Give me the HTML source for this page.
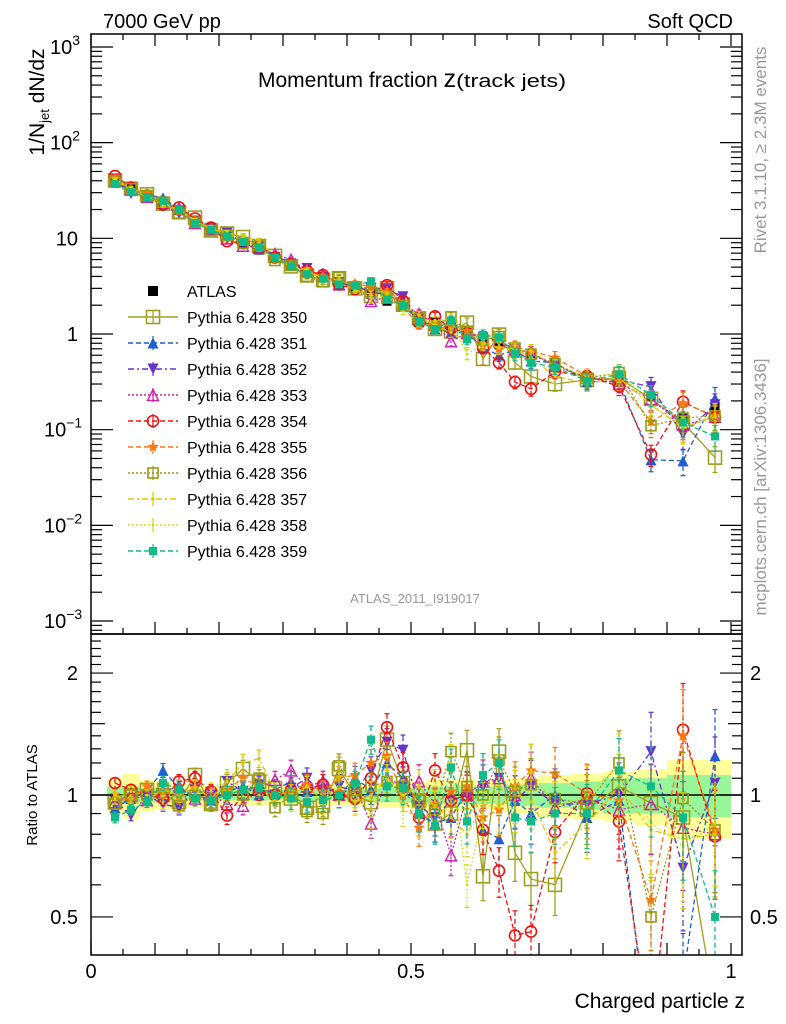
<!DOCTYPE html>
<html><head><meta charset="utf-8"><style>
html,body{margin:0;padding:0;background:#fff;width:786px;height:1024px;overflow:hidden}
svg{display:block;font-family:"Liberation Sans",sans-serif}
</style></head><body>
<svg id="c" width="786" height="1024" viewBox="0 0 786 1024">
<text x="103" y="28" font-size="20">7000 GeV pp</text>
<text x="733" y="28" font-size="20" text-anchor="end">Soft QCD</text>
<text x="258" y="87" font-size="21">Momentum fraction <tspan font-size="25">z</tspan><tspan font-size="18" textLength="110" lengthAdjust="spacingAndGlyphs">(track jets)</tspan></text>
<text x="415" y="603" font-size="13" fill="#999" text-anchor="middle">ATLAS_2011_I919017</text>
<text transform="translate(44,102) rotate(-90)" font-size="21" text-anchor="middle">1/N<tspan font-size="13" dy="5">jet</tspan><tspan dy="-5"> dN/dz</tspan></text>
<text transform="translate(37,795) rotate(-90)" font-size="15" text-anchor="middle">Ratio to ATLAS</text>
<text x="745" y="1008" font-size="21" text-anchor="end">Charged particle z</text>
<text transform="translate(766,150) rotate(-90)" font-size="17" fill="#999" text-anchor="middle">Rivet 3.1.10, ≥ 2.3M events</text>
<text transform="translate(766,487) rotate(-90)" font-size="17" fill="#999" text-anchor="middle">mcplots.cern.ch [arXiv:1306.3436]</text>
</svg>
<script>
const z=[0.0375,0.0625,0.0875,0.1125,0.1375,0.1625,0.1875,0.2125,0.2375,0.2625,0.2875,0.3125,0.3375,0.3625,0.3875,0.4125,0.4375,0.4625,0.4875,0.5125,0.5375,0.5625,0.5875,0.6125,0.6375,0.6625,0.6875,0.725,0.775,0.825,0.875,0.925,0.975];
const atlas=[42,33,28,23,19.5,14.7,12.7,10.5,8.9,7.7,6.3,5.2,4.4,3.9,3.3,3.0,2.6,2.2,1.9,1.5,1.33,1.18,1.02,0.87,0.77,0.7,0.58,0.5,0.36,0.33,0.22,0.135,0.17];
const statErr=[0.05,0.05,0.04,0.03,0.03,0.03,0.03,0.03,0.03,0.03,0.03,0.03,0.03,0.03,0.03,0.03,0.04,0.04,0.04,0.04,0.05,0.05,0.05,0.05,0.05,0.06,0.06,0.07,0.08,0.1,0.1,0.12,0.12];
const totErr=[0.1,0.13,0.09,0.08,0.07,0.07,0.06,0.06,0.06,0.06,0.06,0.05,0.05,0.06,0.06,0.06,0.06,0.07,0.07,0.08,0.09,0.09,0.09,0.08,0.09,0.1,0.1,0.12,0.13,0.14,0.16,0.22,0.22];
const mcErr=[0.03,0.03,0.03,0.04,0.04,0.04,0.04,0.05,0.05,0.05,0.05,0.06,0.06,0.06,0.07,0.07,0.08,0.08,0.09,0.1,0.1,0.11,0.12,0.13,0.14,0.15,0.16,0.16,0.18,0.2,0.25,0.3,0.3];
const r350=[0.96,1.0,1.03,1.0,0.96,1.12,0.95,1.07,1.16,1.08,1.04,0.98,0.93,0.94,1.16,1.0,0.96,1.37,1.07,0.97,0.85,0.9,1.29,0.63,1.28,0.72,0.62,0.6,0.92,1.05,0.955,0.88,0.3];
const r351=[0.93,0.98,1.02,1.15,1.04,1.0,0.97,1.02,1.05,1.0,1.03,1.08,1.02,1.06,1.0,1.1,1.03,1.2,1.1,0.9,0.85,0.88,1.02,0.82,0.78,0.97,0.9,1.0,0.88,0.97,0.22,0.35,1.25];
const r352=[0.97,0.89,1.0,0.95,0.93,1.03,1.0,1.08,1.02,1.06,1.0,1.04,1.1,1.0,1.05,1.02,1.15,1.35,1.29,0.94,0.88,0.97,1.0,1.05,1.1,0.97,1.05,0.95,0.95,1.0,1.28,0.66,1.07];
const r353=[0.96,1.0,0.97,1.02,1.05,0.98,1.0,0.95,0.94,1.04,1.09,1.15,1.05,1.08,1.0,1.05,0.85,1.1,1.05,1.08,0.95,0.71,1.0,1.08,1.1,1.0,1.1,0.93,0.98,0.92,0.95,0.83,0.8];
const r354=[1.07,1.03,1.0,0.98,1.08,1.1,1.02,0.89,1.0,1.02,1.0,1.03,1.04,1.06,1.0,0.98,1.1,1.47,1.17,0.88,1.15,0.97,1.0,0.82,0.65,0.45,0.46,0.81,1.01,0.86,0.25,1.45,0.79];
const r355=[1.0,0.97,1.05,1.02,1.0,1.04,0.98,1.03,1.1,1.05,0.99,1.03,1.06,1.02,1.1,1.12,1.2,1.25,1.0,0.83,0.95,1.02,1.05,0.88,0.92,1.05,1.15,1.13,1.01,0.97,0.55,1.4,0.82];
const r356=[0.95,1.0,1.0,1.04,0.94,1.0,0.95,1.02,1.0,1.1,0.93,1.0,0.91,0.9,1.18,1.03,1.05,1.08,1.05,0.97,0.92,1.28,1.05,1.0,1.22,1.02,1.06,0.98,0.95,1.2,0.5,0.98,0.82];
const r357=[1.0,0.95,0.97,1.03,1.0,1.05,0.98,1.08,1.2,1.23,1.02,1.0,1.05,0.97,1.04,0.96,1.0,1.1,1.0,1.05,0.93,0.88,0.8,0.95,0.93,1.0,0.98,0.72,0.85,1.05,0.82,0.78,0.8];
const r358=[0.98,1.02,1.0,0.96,1.05,1.0,1.03,1.1,1.04,1.0,1.0,0.97,1.05,0.95,1.13,1.0,0.9,1.15,0.92,0.88,1.05,1.2,0.6,0.9,1.1,0.95,1.15,0.93,1.0,1.18,0.85,0.75,0.85];
const r359=[0.88,0.92,0.96,1.07,1.03,0.98,0.97,1.0,1.03,1.04,1.0,0.98,0.96,0.97,1.0,1.07,1.37,1.05,1.04,0.9,0.84,1.17,0.86,1.12,1.2,0.88,0.86,0.9,0.9,1.15,1.05,0.88,0.5];
const names=["Pythia 6.428 350","Pythia 6.428 351","Pythia 6.428 352","Pythia 6.428 353","Pythia 6.428 354","Pythia 6.428 355","Pythia 6.428 356","Pythia 6.428 357","Pythia 6.428 358","Pythia 6.428 359"];

const NS="http://www.w3.org/2000/svg";
const svg=document.getElementById('c');
const L=91,R=742,T1=34,B1=634,T2=634,B2=955;
const X=v=>L+v*640;
const Y1=v=>334-95.67*Math.log10(v);
const Y2=v=>795-405*Math.log10(v);
function mk(tag,at,parent){const e=document.createElementNS(NS,tag);for(const k in at)e.setAttribute(k,at[k]);(parent||svg).appendChild(e);return e;}

const styles=[
 {c:"#a0a020",d:"",m:"osq",s:13},
 {c:"#1f5fcf",d:"5,3",m:"tri",s:11},
 {c:"#6633cc",d:"6,3,2,3",m:"tridn",s:11},
 {c:"#cc22aa",d:"2,2",m:"otri",s:11},
 {c:"#ee1111",d:"5,3",m:"ocirc",s:11},
 {c:"#ff7711",d:"5,3",m:"star",s:12},
 {c:"#999910",d:"2,2",m:"osq",s:10},
 {c:"#e0c800",d:"6,3,2,3",m:"dot",s:5},
 {c:"#ccdd00",d:"1.5,2.5",m:"dot",s:4},
 {c:"#11bb88",d:"5,3",m:"sq",s:8}
];
const ratios=[r350,r351,r352,r353,r354,r355,r356,r357,r358,r359];

function marker(g,m,x,y,c,s){
 const h=s/2;
 if(m==="osq")return mk('rect',{x:x-h,y:y-h,width:s,height:s,fill:"none",stroke:c,"stroke-width":1.6},g);
 if(m==="sq")return mk('rect',{x:x-h,y:y-h,width:s,height:s,fill:c},g);
 if(m==="tri")return mk('polygon',{points:`${x},${y-h} ${x-h},${y+h} ${x+h},${y+h}`,fill:c},g);
 if(m==="tridn")return mk('polygon',{points:`${x},${y+h} ${x-h},${y-h} ${x+h},${y-h}`,fill:c},g);
 if(m==="otri")return mk('polygon',{points:`${x},${y-h} ${x-h},${y+h} ${x+h},${y+h}`,fill:"none",stroke:c,"stroke-width":1.4},g);
 if(m==="ocirc")return mk('circle',{cx:x,cy:y,r:h,fill:"none",stroke:c,"stroke-width":1.6},g);
 if(m==="dot")return mk('circle',{cx:x,cy:y,r:h/1.5,fill:c},g);
 if(m==="star"){let p=[];for(let i=0;i<10;i++){const a=-Math.PI/2+i*Math.PI/5,rr=i%2?h*0.45:h;p.push((x+rr*Math.cos(a)).toFixed(1)+","+(y+rr*Math.sin(a)).toFixed(1));}return mk('polygon',{points:p.join(' '),fill:c},g);}
}

const defs=mk('defs',{});
const cp1=mk('clipPath',{id:'cp1'},defs);mk('rect',{x:L,y:T1,width:R-L,height:B1-T1},cp1);
const cp2=mk('clipPath',{id:'cp2'},defs);mk('rect',{x:L,y:T2,width:R-L,height:B2-T2},cp2);

const bands=mk('g',{"clip-path":"url(#cp2)"});


const edges=z.map((v,i)=>[i<27?v-0.0125:v-0.025,i<27?v+0.0125:v+0.025]);
z.forEach((v,i)=>{
 const a=X(edges[i][0]),b=X(edges[i][1]);
 const y=mk('rect',{x:a,y:Y2(1+totErr[i]),width:b-a,height:Y2(1-totErr[i])-Y2(1+totErr[i]),fill:"#ffff99"},bands);
 
 
 const g2=mk('rect',{x:a,y:Y2(1+statErr[i]),width:b-a,height:Y2(1-statErr[i])-Y2(1+statErr[i]),fill:"#99f599"},bands);
 
 
});
mk('line',{x1:L,x2:R,y1:Y2(1),y2:Y2(1),stroke:"#000","stroke-width":1.5});

function drawSeries(panel){
 const Yf=panel===1?Y1:Y2, clip=panel===1?'url(#cp1)':'url(#cp2)';
 ratios.forEach((rs,k)=>{
  const st=styles[k];
  const g=mk('g',{"clip-path":clip});
  
  
  const vals=rs.map((r,i)=>panel===1?r*atlas[i]:r);
  const pts=vals.map((v,i)=>X(z[i]).toFixed(1)+","+Yf(v).toFixed(1)).join(' ');
  mk('polyline',{points:pts,fill:"none",stroke:st.c,"stroke-width":1.3,"stroke-dasharray":st.d},g);
  vals.forEach((v,i)=>{
   const x=X(z[i]),e=mcErr[i];
   const y1=Yf(v*(1+e)),y2=Yf(Math.max(v*(1-e),1e-6));
   mk('line',{x1:x,x2:x,y1:y1,y2:y2,stroke:st.c,"stroke-width":1.3,"stroke-dasharray":st.d},g);
   mk('line',{x1:x-2.5,x2:x+2.5,y1:y1,y2:y1,stroke:st.c,"stroke-width":1.2},g);
   mk('line',{x1:x-2.5,x2:x+2.5,y1:y2,y2:y2,stroke:st.c,"stroke-width":1.2},g);
   const p=marker(g,st.m,x,Yf(v),st.c,st.s);
   
   
  });
 });
}
const ga=mk('g',{});


atlas.forEach((v,i)=>{
 const x=X(z[i]);
 mk('line',{x1:x,x2:x,y1:Y1(v*(1+totErr[i])),y2:Y1(v*(1-totErr[i])),stroke:"#000","stroke-width":1.2},ga);
 const p=mk('rect',{x:x-4.5,y:Y1(v)-4.5,width:9,height:9,fill:"#000"},ga);
 
 
});
drawSeries(1);
drawSeries(2);

mk('rect',{x:L,y:T1,width:R-L,height:B1-T1,fill:"none",stroke:"#000","stroke-width":1.5});
mk('rect',{x:L,y:T2,width:R-L,height:B2-T2,fill:"none",stroke:"#000","stroke-width":1.5});

for(let i=0;i<=20;i++){
 const v=i*0.05,x=X(v),len=i%2?6:12;
 mk('line',{x1:x,x2:x,y1:T1,y2:T1+len,stroke:"#000","stroke-width":1.2});
 mk('line',{x1:x,x2:x,y1:B1,y2:B1-len,stroke:"#000","stroke-width":1.2});
 mk('line',{x1:x,x2:x,y1:B2,y2:B2-len,stroke:"#000","stroke-width":1.2});
}
const xt=[["0",0],["0.5",0.5],["1",1]];
xt.forEach(t=>{const e=mk('text',{x:X(t[1]),y:978,"font-size":20,"text-anchor":"middle"});e.textContent=t[0];
 
 });

for(let d=-4;d<=3;d++){
 for(let m=1;m<10;m++){
  const v=m*Math.pow(10,d),y=Y1(v);
  if(y<T1||y>B1)continue;
  const len=m===1?22:11;
  mk('line',{x1:L,x2:L+len,y1:y,y2:y,stroke:"#000","stroke-width":1.2});
  mk('line',{x1:R,x2:R-len,y1:y,y2:y,stroke:"#000","stroke-width":1.2});
 }
}
const ylab=[[3,"10","3"],[2,"10","2"],[1,"10",""],[0,"1",""],[-1,"10","−1"],[-2,"10","−2"],[-3,"10","−3"]];
ylab.forEach(t=>{
 const e=mk('text',{x:t[2]?(t[2].length>1?44:50):78,y:Y1(Math.pow(10,t[0]))+7,"font-size":20,"text-anchor":t[2]?"start":"end"});
 
 
 if(t[2]){e.textContent=t[1];const s=mk('tspan',{"font-size":14,dy:-9},e);s.textContent=t[2];}
 else e.textContent=t[1];
});

for(let k=4;k<=25;k++){
 const v=k/10,y=Y2(v);
 if(y<T2||y>B2)continue;
 const len=(k===5||k===10||k===20)?22:(k===15?14:10);
 mk('line',{x1:L,x2:L+len,y1:y,y2:y,stroke:"#000","stroke-width":1.2});
 mk('line',{x1:R,x2:R-len,y1:y,y2:y,stroke:"#000","stroke-width":1.2});
}
[["2",2],["1",1],["0.5",0.5]].forEach(t=>{
 const a=mk('text',{x:78,y:Y2(t[1])+7,"font-size":20,"text-anchor":"end"});a.textContent=t[0];
 
 
 const b=mk('text',{x:750,y:Y2(t[1])+7,"font-size":20});b.textContent=t[0];
 
 
});

const lg=mk('g',{});


const le0=mk('g',{},lg);


mk('rect',{x:148,y:286,width:10,height:10,fill:"#000"},le0);
const t0=mk('text',{x:187,y:297,"font-size":16},le0);t0.textContent="ATLAS";
names.forEach((n,k)=>{
 const st=styles[k],y=317+26*k;
 const g=mk('g',{},lg);
 
 
 mk('line',{x1:128,x2:178,y1:y,y2:y,stroke:st.c,"stroke-width":1.4,"stroke-dasharray":st.d},g);
 mk('line',{x1:153,x2:153,y1:y-7,y2:y+7,stroke:st.c,"stroke-width":1.2},g);
 marker(g,st.m,153,y,st.c,st.s);
 const t=mk('text',{x:187,y:y+6,"font-size":16},g);t.textContent=n;
});
</script>
</body></html>
